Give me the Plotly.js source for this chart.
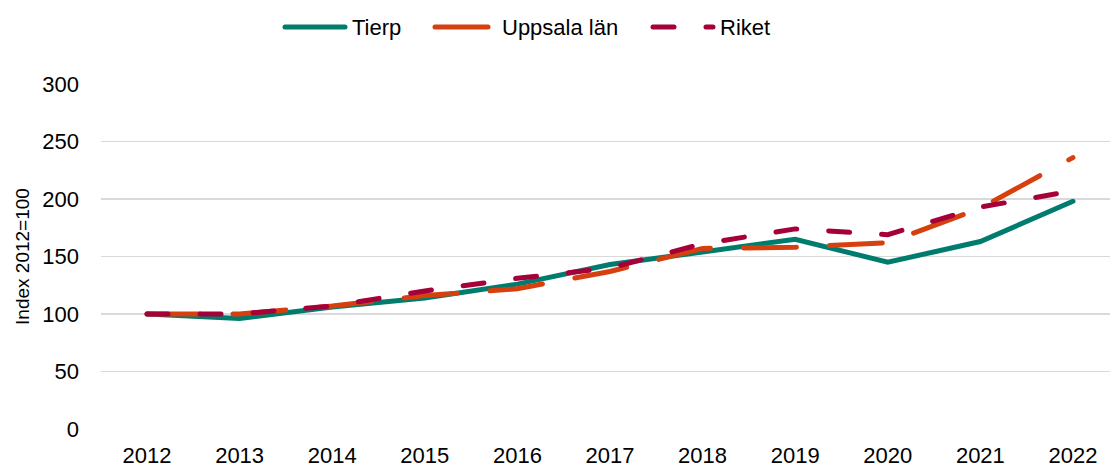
<!DOCTYPE html>
<html>
<head>
<meta charset="utf-8">
<script src="https://cdn.plot.ly/plotly-3.0.1.min.js"></script>
<style>html,body{margin:0;padding:0;background:#fff}#chart{width:1110px;height:468px}</style>
</head>
<body>
<div id="chart"></div>
<script>
const years = ["2012","2013","2014","2015","2016","2017","2018","2019","2020","2021","2022"];
const tierp = [100, 96, 106, 114, 126, 143, 154, 165, 145, 163, 198];
const uppsala = [100, 100, 107, 116, 122, 137, 157, 158, 162, 192, 236];
const riket = [100, 100, 107, 120, 131, 140, 161, 174, 169, 193, 207];

const traces = [
  {x: years, y: tierp, name: "Tierp", type: "scatter", mode: "lines", legend: "legend",
   line: {color: "#007C6E", width: 5}},
  {x: years, y: uppsala, name: "Uppsala län", type: "scatter", mode: "lines", legend: "legend2",
   line: {color: "#D6400F", width: 5, dash: "53px,33px"}},
  {x: years, y: riket, name: "Riket", type: "scatter", mode: "lines", legend: "legend3",
   line: {color: "#A6003A", width: 5, dash: "21px,32px"}}
];

function pxToPaper(p) { return (p - 101) / 1009; }
const legBase = {orientation: "h", xanchor: "left", y: 1.165, yanchor: "middle",
                 font: {size: 22, color: "#000"}, itemwidth: 62, bgcolor: "rgba(0,0,0,0)"};

const layout = {
  width: 1110, height: 468,
  margin: {l: 101, r: 0, t: 84, b: 39},
  paper_bgcolor: "#fff", plot_bgcolor: "#fff",
  font: {family: "Liberation Sans, Arial, sans-serif", size: 22, color: "#000"},
  showlegend: true,
  legend: Object.assign({}, legBase, {x: pxToPaper(280)}),
  legend2: Object.assign({}, legBase, {x: pxToPaper(430)}),
  legend3: Object.assign({}, legBase, {x: pxToPaper(648)}),
  xaxis: {type: "category", range: [-0.497, 10.4], showgrid: false, zeroline: false,
          showline: false, ticks: "", tickfont: {size: 22}, ticklabelstandoff: 11},
  yaxis: {range: [0, 300], dtick: 50, tick0: 0, showgrid: true, gridcolor: "#d9d9d9", gridwidth: 1.5,
          zeroline: false, showline: false, ticks: "", tickfont: {size: 22}, ticklabelstandoff: 21,
          title: {text: "Index 2012=100", font: {size: 19}, standoff: 7}}
};

Plotly.newPlot("chart", traces, layout, {displayModeBar: false, staticPlot: true}).then(function (gd) {
  gd.querySelectorAll(".scatterlayer .js-line").forEach(function (p) {
    p.style.strokeLinecap = "round";
  });
  gd.querySelectorAll(".legendlines path").forEach(function (p) {
    p.setAttribute("d", "M5,0h60");
    p.style.strokeLinecap = "round";
  });
});
</script>
</body>
</html>
